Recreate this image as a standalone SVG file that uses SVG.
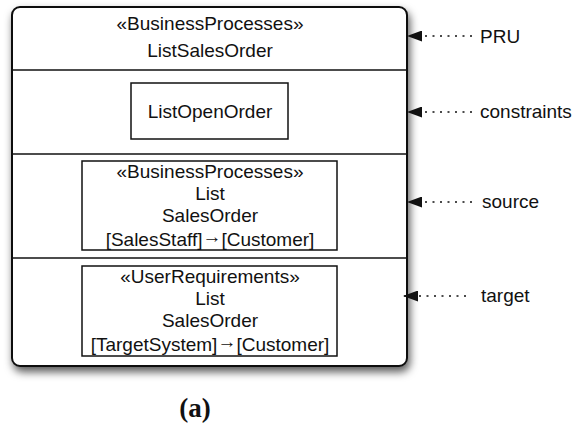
<svg xmlns="http://www.w3.org/2000/svg" width="574" height="427" viewBox="0 0 574 427">
<style>
text{font-family:"Liberation Sans",Arial,sans-serif;font-size:19px;fill:#111;}
.c{text-anchor:middle;}
.box{fill:#fff;stroke:#111;stroke-width:1.5;}
.sep{stroke:#111;stroke-width:1.5;}
.dot{stroke:#111;stroke-width:1.6;stroke-dasharray:2 5.5;fill:none;}
.cap{font-family:"Liberation Serif","Times New Roman",serif;font-weight:bold;font-size:27px;}
</style>
<defs>
<filter id="sh" x="-10%" y="-10%" width="130%" height="130%">
<feDropShadow dx="2" dy="5" stdDeviation="4.5" flood-color="#000" flood-opacity="0.65"/>
</filter>
<marker id="ah" viewBox="0 0 15 11" refX="15" refY="5.5" markerWidth="15" markerHeight="11" markerUnits="userSpaceOnUse" orient="auto">
<path d="M0,0 L15,5.5 L0,11 z" fill="#111"/>
</marker>
</defs>
<g id="pru">
<rect x="12" y="7" width="395" height="359" rx="8" ry="8" fill="#fff" stroke="#111" stroke-width="2" filter="url(#sh)"/>
<text class="c" x="210" y="30">«BusinessProcesses»</text>
<text class="c" x="210" y="57">ListSalesOrder</text>
<line class="sep" x1="12" y1="70" x2="407" y2="70"/>
<line class="sep" x1="12" y1="154" x2="407" y2="154"/>
<line class="sep" x1="12" y1="258" x2="407" y2="258"/>
</g>
<g id="constraints">
<rect class="box" x="131" y="83" width="157" height="56"/>
<text class="c" x="210" y="118">ListOpenOrder</text>
</g>
<g id="source">
<rect class="box" x="82" y="161" width="255" height="89"/>
<text class="c" x="210" y="178">«BusinessProcesses»</text>
<text class="c" x="210" y="200">List</text>
<text class="c" x="210" y="222">SalesOrder</text>
<text class="c" x="210" y="246">[SalesStaff]<tspan dy="-3">→</tspan><tspan dy="3">[Customer]</tspan></text>
</g>
<g id="target">
<rect class="box" x="82" y="266" width="255" height="90"/>
<text class="c" x="210" y="283">«UserRequirements»</text>
<text class="c" x="210" y="305">List</text>
<text class="c" x="210" y="327">SalesOrder</text>
<text class="c" x="210" y="351">[TargetSystem]<tspan dy="-3">→</tspan><tspan dy="3">[Customer]</tspan></text>
</g>
<g id="connectors">
<path class="dot" d="M472,36 L407,36" marker-end="url(#ah)"/>
<path class="dot" d="M472,112 L407,112" marker-end="url(#ah)"/>
<path class="dot" d="M472,202 L407,202" marker-end="url(#ah)"/>
<path class="dot" d="M466,296 L403,296" marker-end="url(#ah)"/>
</g>
<g id="labels">
<text x="480" y="43">PRU</text>
<text x="480" y="118">constraints</text>
<text x="482" y="208">source</text>
<text x="481" y="302">target</text>
</g>
<text class="cap c" x="195" y="417">(a)</text>
</svg>
